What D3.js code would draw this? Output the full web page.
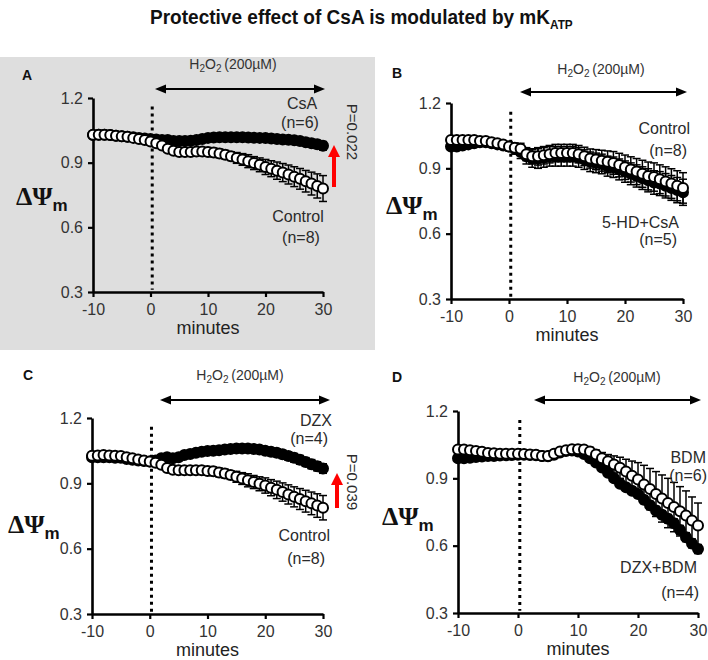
<!DOCTYPE html>
<html><head><meta charset="utf-8">
<script src="https://cdn.jsdelivr.net/npm/d3@7"></script>
<style>body{margin:0;background:#fff}svg{display:block}</style>
</head><body><svg id="c" width="708" height="660"></svg>
<script>
// ---------- data ----------
const minutes = [-10,-9,-8,-7,-6,-5,-4,-3,-2,-1,0,1,2,3,4,5,6,7,8,9,10,11,12,13,14,15,16,17,18,19,20,21,22,23,24,25,26,27,28,29,30];
const yTicks = [0.3,0.6,0.9,1.2];
const xTicks = [-10,0,10,20,30];

// Panel A
const aCsA = [1.028,1.03,1.03,1.028,1.025,1.022,1.02,1.018,1.015,1.012,1.01,1.008,1.005,1.005,1.0,1.0,1.0,1.002,1.005,1.01,1.015,1.017,1.018,1.018,1.018,1.018,1.018,1.017,1.016,1.015,1.014,1.012,1.01,1.008,1.006,1.004,1.0,0.995,0.99,0.985,0.978];
const aCsAErr = [0.008,0.008,0.008,0.008,0.008,0.008,0.008,0.008,0.008,0.008,0.01,0.01,0.01,0.01,0.01,0.01,0.01,0.01,0.01,0.01,0.012,0.012,0.012,0.012,0.012,0.012,0.012,0.013,0.013,0.013,0.014,0.014,0.014,0.015,0.015,0.016,0.016,0.017,0.018,0.019,0.02];
const aCtrl = [1.03,1.03,1.03,1.028,1.025,1.022,1.02,1.015,1.01,1.005,0.998,0.99,0.98,0.965,0.955,0.95,0.95,0.95,0.952,0.952,0.95,0.947,0.943,0.937,0.93,0.922,0.915,0.907,0.898,0.89,0.88,0.872,0.863,0.854,0.845,0.835,0.825,0.814,0.803,0.792,0.78];
const aCtrlErr = [0.01,0.01,0.01,0.01,0.01,0.01,0.01,0.01,0.01,0.01,0.015,0.015,0.015,0.015,0.015,0.015,0.015,0.015,0.015,0.015,0.02,0.02,0.02,0.02,0.02,0.025,0.027,0.03,0.03,0.032,0.035,0.037,0.04,0.042,0.044,0.046,0.048,0.05,0.053,0.056,0.06];

// Panel B
const bCtrl = [1.03,1.03,1.03,1.03,1.03,1.025,1.025,1.02,1.015,1.01,1.0,0.995,0.99,0.965,0.955,0.955,0.96,0.965,0.97,0.97,0.97,0.97,0.965,0.955,0.945,0.94,0.935,0.93,0.925,0.915,0.905,0.895,0.885,0.875,0.865,0.86,0.85,0.84,0.83,0.82,0.81];
const bCtrlErr = [0.012,0.012,0.012,0.012,0.012,0.012,0.012,0.012,0.012,0.012,0.015,0.02,0.025,0.03,0.035,0.04,0.04,0.04,0.04,0.04,0.04,0.04,0.04,0.042,0.044,0.046,0.048,0.05,0.052,0.054,0.056,0.058,0.06,0.062,0.064,0.065,0.066,0.067,0.068,0.069,0.07];
const bHdCsA = [1.0,1.0,1.005,1.01,1.015,1.02,1.02,1.015,1.01,1.005,1.0,0.99,0.975,0.955,0.945,0.945,0.95,0.955,0.955,0.955,0.955,0.955,0.95,0.94,0.93,0.925,0.92,0.91,0.905,0.895,0.885,0.875,0.865,0.855,0.845,0.835,0.83,0.82,0.81,0.8,0.79];
const bHdCsAErr = [0.015,0.015,0.015,0.015,0.015,0.015,0.015,0.015,0.015,0.015,0.02,0.025,0.03,0.035,0.04,0.045,0.045,0.045,0.045,0.045,0.045,0.045,0.045,0.045,0.045,0.045,0.045,0.046,0.047,0.048,0.049,0.05,0.051,0.052,0.053,0.054,0.055,0.056,0.057,0.058,0.06];

// Panel C
const cDzx = [1.02,1.02,1.02,1.02,1.018,1.017,1.012,1.008,1.005,1.002,1.0,1.005,1.015,1.02,1.015,1.02,1.03,1.035,1.04,1.045,1.048,1.05,1.052,1.055,1.058,1.06,1.06,1.06,1.058,1.055,1.05,1.045,1.04,1.033,1.025,1.017,1.008,0.998,0.988,0.978,0.968];
const cDzxErr = [0.01,0.01,0.01,0.01,0.01,0.01,0.01,0.01,0.01,0.01,0.012,0.012,0.012,0.012,0.012,0.012,0.012,0.012,0.012,0.012,0.014,0.014,0.014,0.014,0.014,0.015,0.015,0.016,0.016,0.017,0.017,0.018,0.018,0.019,0.019,0.02,0.02,0.02,0.021,0.021,0.022];
const cCtrl = [1.027,1.028,1.03,1.028,1.027,1.025,1.02,1.015,1.01,1.005,1.0,0.995,0.985,0.97,0.962,0.96,0.96,0.96,0.96,0.96,0.957,0.955,0.95,0.945,0.938,0.93,0.922,0.914,0.906,0.898,0.89,0.88,0.87,0.86,0.849,0.838,0.828,0.818,0.808,0.798,0.788];
const cCtrlErr = [0.01,0.01,0.01,0.01,0.01,0.01,0.01,0.01,0.01,0.01,0.015,0.015,0.015,0.015,0.015,0.015,0.015,0.015,0.015,0.015,0.02,0.02,0.02,0.02,0.02,0.025,0.027,0.03,0.03,0.032,0.035,0.037,0.04,0.042,0.044,0.046,0.048,0.05,0.052,0.054,0.056];

// Panel D
const dBdm = [1.028,1.028,1.025,1.022,1.018,1.013,1.012,1.01,1.01,1.01,1.009,1.008,1.006,1.005,1.0,1.0,1.01,1.02,1.025,1.03,1.03,1.028,1.02,1.006,0.99,0.976,0.962,0.947,0.93,0.912,0.895,0.873,0.852,0.83,0.81,0.79,0.772,0.753,0.734,0.712,0.69];
const dBdmErr = [0.01,0.01,0.01,0.01,0.01,0.01,0.01,0.01,0.01,0.01,0.01,0.01,0.01,0.01,0.01,0.01,0.01,0.01,0.012,0.012,0.014,0.016,0.018,0.02,0.025,0.03,0.038,0.047,0.055,0.065,0.075,0.085,0.092,0.1,0.105,0.11,0.11,0.11,0.11,0.105,0.1];
const dDzxBdm = [0.99,0.99,0.992,0.995,0.997,1.0,1.0,1.002,1.003,1.004,1.005,1.005,1.004,1.003,1.0,0.998,1.005,1.015,1.022,1.024,1.02,1.008,0.99,0.97,0.948,0.925,0.9,0.876,0.86,0.845,0.83,0.805,0.78,0.757,0.738,0.72,0.7,0.67,0.638,0.61,0.585];
const dDzxBdmErr = [0.01,0.01,0.01,0.01,0.01,0.01,0.01,0.01,0.01,0.01,0.01,0.01,0.01,0.01,0.01,0.01,0.01,0.01,0.01,0.01,0.012,0.012,0.012,0.013,0.013,0.014,0.014,0.015,0.015,0.016,0.016,0.017,0.017,0.018,0.018,0.019,0.019,0.02,0.02,0.02,0.02];

// ---------- layout ----------
const panels = [
  {letter:'A', box:{x0:93,x1:323,y0:98,y1:292}, letterPos:[27,80], h2o2:[233,69], arrow:[155,325,89], psi:[16,205],
   series:[{v:aCsA,e:aCsAErr,filled:true},{v:aCtrl,e:aCtrlErr,filled:false}],
   labels:[{t:'CsA',x:302,y:109},{t:'(n=6)',x:300,y:128},{t:'Control',x:298,y:222},{t:'(n=8)',x:301,y:243}],
   p:{t:'P=0.022',x:347,y:132}, red:[334,187,145]},
  {letter:'B', box:{x0:451,x1:683,y0:103,y1:299}, letterPos:[397,78], h2o2:[601,74], arrow:[520,687,92], psi:[386,214],
   series:[{v:bHdCsA,e:bHdCsAErr,filled:true},{v:bCtrl,e:bCtrlErr,filled:false}],
   labels:[{t:'Control',x:690,y:134,a:'end'},{t:'(n=8)',x:687,y:156,a:'end'},{t:'5-HD+CsA',x:679,y:228,a:'end'},{t:'(n=5)',x:677,y:245,a:'end'}],
   p:null, red:null},
  {letter:'C', box:{x0:92,x1:323,y0:418,y1:614}, letterPos:[28,380], h2o2:[240,380], arrow:[160,330,400], psi:[8,533],
   series:[{v:cDzx,e:cDzxErr,filled:true},{v:cCtrl,e:cCtrlErr,filled:false}],
   labels:[{t:'DZX',x:332,y:426,a:'end'},{t:'(n=4)',x:328,y:444,a:'end'},{t:'Control',x:330,y:541,a:'end'},{t:'(n=8)',x:325,y:564,a:'end'}],
   p:{t:'P=0.039',x:347,y:482}, red:[337,508,473]},
  {letter:'D', box:{x0:458,x1:698,y0:411,y1:613}, letterPos:[397,382], h2o2:[617,382], arrow:[534,701,400], psi:[382,525],
   series:[{v:dDzxBdm,e:dDzxBdmErr,filled:true},{v:dBdm,e:dBdmErr,filled:false}],
   labels:[{t:'BDM',x:706,y:463,a:'end'},{t:'(n=6)',x:707,y:481,a:'end'},{t:'DZX+BDM',x:697,y:573,a:'end'},{t:'(n=4)',x:699,y:598,a:'end'}],
   p:null, red:null}
];

const svg = d3.select('#c');
const SANS = "'Liberation Sans', Arial, sans-serif";
const TXT = '#2a2a2a';

// gray background behind panel A
svg.append('rect').attr('x',0).attr('y',57).attr('width',375).attr('height',293).attr('fill','#dedede');

// title (condensed to the reference width)
const titleG = svg.append('g');
const title = titleG.append('text').attr('x',0).attr('y',0)
  .attr('font-family',"'Liberation Sans',Arial,sans-serif")
  .attr('font-weight','bold').attr('font-size',21).attr('fill','#111');
title.append('tspan').text('Protective effect of CsA is modulated by mK');
title.append('tspan').attr('font-size',13).attr('dy',5).text('ATP');
const tw = title.node().getComputedTextLength();
const sx = 423 / tw;
titleG.attr('transform',`translate(150,24) scale(${sx},1)`);

panels.forEach(P => {
  const g = svg.append('g');
  const x = d3.scaleLinear().domain([-10,30]).range([P.box.x0,P.box.x1]);
  const y = d3.scaleLinear().domain([0.3,1.2]).range([P.box.y1,P.box.y0]);

  // panel letter
  g.append('text').attr('x',P.letterPos[0]).attr('y',P.letterPos[1]).attr('text-anchor','middle')
    .attr('font-family',SANS).attr('font-weight','bold').attr('font-size',14).attr('fill','#111').text(P.letter);

  // H2O2 label
  const h = g.append('text').attr('x',P.h2o2[0]).attr('y',P.h2o2[1]).attr('text-anchor','middle')
    .attr('font-family',SANS).attr('font-size',14).attr('fill','#333');
  h.append('tspan').text('H');
  h.append('tspan').attr('font-size',10).attr('dy',3).text('2');
  h.append('tspan').attr('dy',-3).text('O');
  h.append('tspan').attr('font-size',10).attr('dy',3).text('2');
  h.append('tspan').attr('dy',-3).text('\u2009(200\u00b5M)');

  // double arrow
  const [ax0,ax1,ay] = P.arrow;
  g.append('line').attr('x1',ax0+6).attr('x2',ax1-6).attr('y1',ay).attr('y2',ay).attr('stroke','#000').attr('stroke-width',1.8);
  g.append('path').attr('d',`M${ax0},${ay} L${ax0+11},${ay-4.5} L${ax0+11},${ay+4.5} Z`).attr('fill','#000');
  g.append('path').attr('d',`M${ax1},${ay} L${ax1-11},${ay-4.5} L${ax1-11},${ay+4.5} Z`).attr('fill','#000');

  // dotted line at start of H2O2
  g.append('line').attr('x1',x(0.3)).attr('x2',x(0.3)).attr('y1',y(1.16)).attr('y2',y(0.31))
    .attr('stroke','#000').attr('stroke-width',3).attr('stroke-dasharray','3,4');

  // axes
  const yAxis = d3.axisLeft(y).tickValues(yTicks).tickFormat(d3.format('.1f')).tickSize(5).tickSizeOuter(0).tickPadding(5);
  const xAxis = d3.axisBottom(x).tickValues(xTicks).tickFormat(d => String(d)).tickSize(5).tickSizeOuter(0).tickPadding(7);
  const ya = g.append('g').attr('transform',`translate(${P.box.x0},0)`).call(yAxis);
  const xa = g.append('g').attr('transform',`translate(0,${P.box.y1})`).call(xAxis);
  [ya,xa].forEach(a => {
    a.select('.domain').attr('stroke','#000').attr('stroke-width',2.6);
    a.selectAll('.tick line').attr('stroke','#000').attr('stroke-width',2.2);
    a.selectAll('.tick text').attr('font-family',SANS).attr('font-size',16).attr('fill','#333');
  });

  // axis titles
  g.append('text').attr('x',(P.box.x0+P.box.x1)/2).attr('y',P.box.y1+42).attr('text-anchor','middle')
    .attr('font-family',SANS).attr('font-size',18).attr('fill','#222').text('minutes');
  const psi = g.append('text').attr('x',P.psi[0]).attr('y',P.psi[1]).attr('fill','#111');
  psi.append('tspan').attr('font-family',"'Liberation Serif','Times New Roman',serif").attr('font-weight','bold').attr('font-size',26).text('\u0394\u03a8');
  psi.append('tspan').attr('font-family',SANS).attr('font-weight','bold').attr('font-size',17).attr('dy',6).text('m');

  // series
  P.series.forEach(S => {
    const pts = minutes.map((m,i) => ({m, v:S.v[i], e:S.e[i]}));
    const eb = g.append('g').attr('stroke','#000').attr('stroke-width',1.5);
    eb.selectAll('line.v').data(pts).join('line').attr('class','v')
      .attr('x1',d=>x(d.m)).attr('x2',d=>x(d.m)).attr('y1',d=>y(d.v-d.e)).attr('y2',d=>y(d.v+d.e));
    eb.selectAll('line.t').data(pts).join('line').attr('class','t')
      .attr('x1',d=>x(d.m)-4).attr('x2',d=>x(d.m)+4).attr('y1',d=>y(d.v+d.e)).attr('y2',d=>y(d.v+d.e));
    eb.selectAll('line.b').data(pts).join('line').attr('class','b')
      .attr('x1',d=>x(d.m)-4).attr('x2',d=>x(d.m)+4).attr('y1',d=>y(d.v-d.e)).attr('y2',d=>y(d.v-d.e));
    g.append('g').selectAll('circle').data(pts).join('circle')
      .attr('cx',d=>x(d.m)).attr('cy',d=>y(d.v)).attr('r',5)
      .attr('fill',S.filled?'#000':'#fff').attr('stroke','#000').attr('stroke-width',2);
  });

  // series labels
  P.labels.forEach(L => {
    g.append('text').attr('x',L.x).attr('y',L.y).attr('text-anchor',L.a||'middle')
      .attr('font-family',SANS).attr('font-size',16).attr('fill',TXT).text(L.t);
  });

  // p-value and red arrow
  if (P.p) {
    g.append('text').attr('transform',`translate(${P.p.x},${P.p.y}) rotate(90)`).attr('text-anchor','middle')
      .attr('font-family',SANS).attr('font-size',15).attr('fill',TXT).text(P.p.t);
  }
  if (P.red) {
    const [rx,rb,rt] = P.red;
    g.append('line').attr('x1',rx).attr('x2',rx).attr('y1',rb).attr('y2',rt+10).attr('stroke','#f00').attr('stroke-width',4);
    g.append('path').attr('d',`M${rx},${rt} L${rx-6},${rt+12} L${rx+6},${rt+12} Z`).attr('fill','#f00');
  }
});
</script></body></html>
